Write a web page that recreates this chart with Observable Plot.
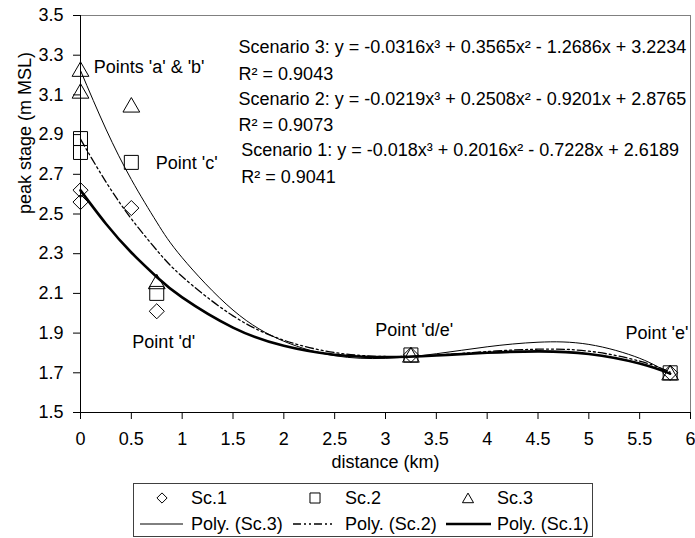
<!DOCTYPE html>
<html><head><meta charset="utf-8">
<script src="https://cdn.jsdelivr.net/npm/d3@7"></script>
<script src="https://cdn.jsdelivr.net/npm/@observablehq/plot@0.6"></script>
<style>
body{margin:0;background:#fff;}
#chart{width:695px;height:538px;background:#fff;}
#chart svg{display:block;}
</style></head><body><div id="chart"></div>
<script>
const scenarioNames = ["Sc.1", "Sc.2", "Sc.3"];
const distances = [0, 0, 0.5, 0.75, 3.25, 5.8];
const sc1 = [2.62, 2.56, 2.53, 2.01, 1.79, 1.70];
const sc2 = [2.88, 2.81, 2.76, 2.10, 1.79, 1.70];
const sc3 = [3.23, 3.12, 3.05, 2.16, 1.79, 1.70];

// ---- trend lines ----
const trendNames = ["Poly. (Sc.3)", "Poly. (Sc.2)", "Poly. (Sc.1)"];
const trendX = [0, 0.25, 0.5, 0.75, 1, 1.5, 2, 2.5, 3, 3.5, 4, 4.5, 5, 5.5, 5.8];
const trend1 = [2.619, 2.451, 2.306, 2.183, 2.080, 1.928, 1.836, 1.791, 1.779, 1.787, 1.801, 1.808, 1.795, 1.747, 1.696];
const trend2 = [2.877, 2.662, 2.476, 2.318, 2.185, 1.987, 1.864, 1.802, 1.782, 1.789, 1.807, 1.819, 1.809, 1.759, 1.704];
const trend3 = [3.223, 2.928, 2.674, 2.459, 2.280, 2.016, 1.859, 1.786, 1.773, 1.796, 1.831, 1.854, 1.843, 1.773, 1.693];

// ---- ticks ----
const xTicks = [0, 0.5, 1, 1.5, 2, 2.5, 3, 3.5, 4, 4.5, 5, 5.5, 6];
const yTicks = [1.5, 1.7, 1.9, 2.1, 2.3, 2.5, 2.7, 2.9, 3.1, 3.3, 3.5];
const xLabel = "distance (km)";
const yLabel = "peak stage (m MSL)";

// ---- annotation texts ----
const equationTexts = [
  "Scenario 3: y = -0.0316x³ + 0.3565x² - 1.2686x + 3.2234",
  "R² = 0.9043",
  "Scenario 2: y = -0.0219x³ + 0.2508x² - 0.9201x + 2.8765",
  "R² = 0.9073",
  "Scenario 1: y = -0.018x³ + 0.2016x² - 0.7228x + 2.6189",
  "R² = 0.9041"
];
const pointLabels = ["Points 'a' & 'b'", "Point 'c'", "Point 'd'", "Point 'd/e'", "Point 'e'"];

// annotation anchors in data units
const equationAnchors = [[1.555, 3.340], [1.555, 3.206], [1.555, 3.080], [1.555, 2.946], [1.58, 2.820], [1.58, 2.685]];
const pointLabelAnchors = [[0.13, 3.237], [0.74, 2.754], [0.51, 1.854], [2.90, 1.913], [5.36, 1.900]];

const FONT = '"Liberation Sans", Arial, Helvetica, sans-serif';

const pts = (vals) => distances.map((d, i) => ({x: d, y: vals[i]}));
const trend = (vals) => trendX.map((d, i) => ({x: d, y: vals[i]}));
const eqData = equationTexts.map((t, i) => ({text: t, x: equationAnchors[i][0], y: equationAnchors[i][1]}));
const plData = pointLabels.map((t, i) => ({text: t, x: pointLabelAnchors[i][0], y: pointLabelAnchors[i][1]}));

const plot = Plot.plot({
  width: 695,
  height: 478,
  marginLeft: 80,
  marginRight: 5,
  marginTop: 15,
  marginBottom: 66,
  style: {fontFamily: FONT, fontSize: "18px", color: "#000", background: "#fff", overflow: "visible"},
  x: {domain: [0, 6]},
  y: {domain: [1.5, 3.5]},
  marks: [
    Plot.frame({stroke: "#808080"}),
    Plot.axisX({ticks: xTicks, tickSize: 7, tickPadding: 13, label: null, tickFormat: d => String(d), fontSize: 18}),
    Plot.axisY({ticks: yTicks, tickSize: 7, tickPadding: 10, label: null, tickFormat: d3.format(".1f"), fontSize: 18}),
    Plot.ruleX([0], {stroke: "#000"}),
    Plot.ruleY([1.5], {stroke: "#000"}),
    Plot.line(trend(trend3), {x: "x", y: "y", curve: "natural", stroke: "#000", strokeWidth: 1}),
    Plot.line(trend(trend2), {x: "x", y: "y", curve: "natural", stroke: "#000", strokeWidth: 1.3, strokeDasharray: "8,3,2,3,2,3"}),
    Plot.line(trend(trend1), {x: "x", y: "y", curve: "natural", stroke: "#000", strokeWidth: 2.6}),
    Plot.dot(pts(sc1), {x: "x", y: "y", symbol: "diamond2", r: 6.8, stroke: "#000", fill: "none", strokeWidth: 1}),
    Plot.dot(pts(sc2), {x: "x", y: "y", symbol: "square2", r: 8.9, stroke: "#000", fill: "none", strokeWidth: 1}),
    Plot.dot(pts(sc3), {x: "x", y: "y", symbol: "triangle2", r: 8, dy: 2.4, stroke: "#000", fill: "none", strokeWidth: 1}),
    Plot.text(eqData, {x: "x", y: "y", text: "text", textAnchor: "start", fontSize: 18, fill: "#000"}),
    Plot.text(plData, {x: "x", y: "y", text: "text", textAnchor: "start", fontSize: 18, fill: "#000"}),
    Plot.text([xLabel], {text: d => d, frameAnchor: "bottom", dy: 55, fontSize: 18, fill: "#000"}),
    Plot.text([yLabel], {text: d => d, frameAnchor: "left", dx: -55, rotate: -90, fontSize: 18, fill: "#000"})
  ]
});
document.getElementById("chart").appendChild(plot);

// ---- legend (below the plot SVG) ----
const leg = d3.create("svg").attr("width", 695).attr("height", 60)
  .style("font-family", FONT).style("font-size", "18px").style("display", "block");
leg.append("rect").attr("x", 133.5).attr("y", 5.5).attr("width", 459).attr("height", 53)
  .attr("fill", "none").attr("stroke", "#404040").attr("stroke-width", 1);

const row1 = 20, row2 = 46;
const symItems = [
  {name: scenarioNames[0], type: d3.symbolDiamond2, r: 4.6, sx: 162, tx: 191},
  {name: scenarioNames[1], type: d3.symbolSquare2, r: 6.4, sx: 315, tx: 345},
  {name: scenarioNames[2], type: d3.symbolTriangle2, r: 5.3, sx: 468, tx: 497}
];
symItems.forEach(s => {
  leg.append("path").attr("d", d3.symbol(s.type, Math.PI * s.r * s.r)())
    .attr("transform", `translate(${s.sx},${row1 + (s.type === d3.symbolTriangle2 ? 1.5 : 0)})`)
    .attr("fill", "none").attr("stroke", "#000");
  leg.append("text").attr("x", s.tx).attr("y", row1).attr("dy", "0.35em").text(s.name);
});
const lineItems = [
  {name: trendNames[0], x1: 140, x2: 183, tx: 191, w: 1, dash: null},
  {name: trendNames[1], x1: 293, x2: 335, tx: 345, w: 1.3, dash: "8,3,2,3,2,3"},
  {name: trendNames[2], x1: 446, x2: 491, tx: 497, w: 2.6, dash: null}
];
lineItems.forEach(l => {
  const ln = leg.append("line").attr("x1", l.x1).attr("x2", l.x2).attr("y1", row2).attr("y2", row2)
    .attr("stroke", "#000").attr("stroke-width", l.w);
  if (l.dash) ln.attr("stroke-dasharray", l.dash);
  leg.append("text").attr("x", l.tx).attr("y", row2).attr("dy", "0.35em").text(l.name);
});
document.getElementById("chart").appendChild(leg.node());
</script>
</body></html>
